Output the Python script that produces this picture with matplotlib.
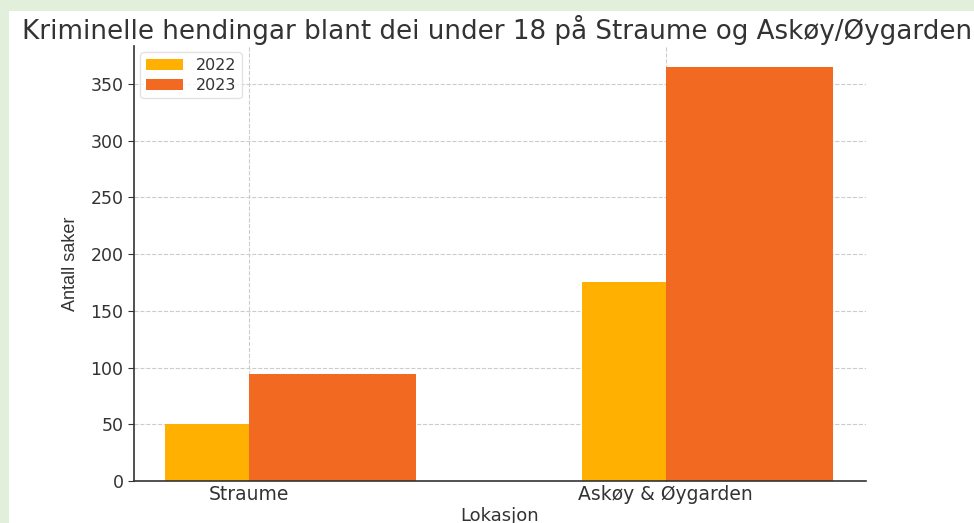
import numpy as np
import matplotlib.pyplot as plt
from matplotlib.patches import Rectangle

# data
lokasjonar = ['Straume', 'Askøy & Øygarden']
saker_2022 = [50, 175]
saker_2023 = [94, 365]

farge_2022 = '#FFB000'
farge_2023 = '#F26A22'
tekst = '#333333'

plt.rcParams['font.family'] = 'DejaVu Sans'

fig = plt.figure(figsize=(9.74, 5.23), dpi=100, facecolor='#E2EFDA')
# kvit flate inni den grøne kanten
fig.patches.append(Rectangle((9 / 974, 0), 1, 1 - 11 / 523, transform=fig.transFigure,
                             facecolor='white', edgecolor='none', zorder=-5))

ax = fig.add_axes([134 / 974, 1 - 481 / 523, (866 - 134) / 974, (481 - 46) / 523])
ax.set_zorder(2)
ax.set_facecolor('white')

x = np.arange(len(lokasjonar))
ax.bar(x - 0.1, saker_2022, 0.2, color=farge_2022, label='2022', zorder=2)
ax.bar(x + 0.2, saker_2023, 0.4, color=farge_2023, label='2023', zorder=2)

ax.set_xticks(x)
ax.set_xticklabels(lokasjonar, fontsize=13.5, color=tekst)
ax.set_yticks(range(0, 351, 50))
ax.tick_params(axis='y', labelsize=12.5, colors=tekst, length=4)
ax.tick_params(axis='x', colors=tekst, length=4, direction='in', pad=3)
ax.set_ylim(0, 383.5)
ax.set_xlim(-0.275, 1.48)

ax.grid(True, linestyle='--', color='#cccccc', linewidth=0.8, zorder=0)
ax.set_axisbelow(True)

for s in ['top', 'right']:
    ax.spines[s].set_visible(False)
for s in ['left', 'bottom']:
    ax.spines[s].set_color('#333333')
    ax.spines[s].set_linewidth(1.2)

fig.text(22 / 974, 1 - 39 / 523,
         'Kriminelle hendingar blant dei under 18 på Straume og Askøy/Øygarden',
         fontsize=18.8, color=tekst, ha='left', va='baseline')
ax.set_xlabel('Lokasjon', fontsize=13, color=tekst, labelpad=2)
ax.set_ylabel('Antall saker', fontsize=13, color=tekst, family='Liberation Sans', labelpad=8)

leg = ax.legend(loc='upper left', fontsize=11.5, frameon=True, borderpad=0.35,
                handlelength=2.3, labelspacing=0.3, borderaxespad=0.4)
leg.get_frame().set_edgecolor('#dddddd')
for t in leg.get_texts():
    t.set_color(tekst)

fig.savefig('out.png', dpi=100, facecolor=fig.get_facecolor())
